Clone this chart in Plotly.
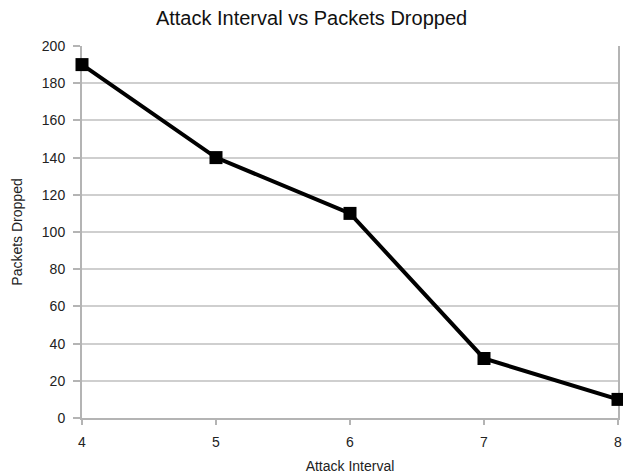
import plotly.graph_objects as go

attack_interval = [4, 5, 6, 7, 8]
packets_dropped = [190, 140, 110, 32, 10]
y_ticks = [0, 20, 40, 60, 80, 100, 120, 140, 160, 180, 200]

fig = go.Figure()
fig.add_trace(go.Scatter(
    x=attack_interval, y=packets_dropped, mode="lines+markers",
    line=dict(color="black", width=4),
    marker=dict(symbol="square", size=13, color="black"),
    cliponaxis=False, showlegend=False,
))

fig.update_layout(
    width=623, height=476,
    margin=dict(l=82, r=5, t=46, b=58, pad=0),
    paper_bgcolor="white", plot_bgcolor="white",
    font=dict(family="Liberation Sans, Arial, sans-serif", color="#222222", size=14),
    title=dict(text="Attack Interval vs Packets Dropped", x=0.5, xanchor="center",
               y=0.962, yanchor="middle", font=dict(size=20, color="#111111")),
    xaxis=dict(
        range=[4, 8], tickvals=attack_interval, showgrid=False, zeroline=False,
        showline=True, linecolor="#b4b4b4", linewidth=2, layer="below traces",
        ticks="outside", ticklen=5, tickcolor="#b4b4b4", tickwidth=2,
        ticklabelstandoff=5, automargin=False,
        title=dict(text="Attack Interval", standoff=12, font=dict(size=14)),
    ),
    yaxis=dict(
        range=[0, 200], tickvals=y_ticks, showgrid=True, gridcolor="#cfcfcf", gridwidth=1.5,
        zeroline=False, showline=True, mirror=True, linecolor="#b4b4b4", linewidth=2,
        layer="below traces",
        ticks="outside", ticklen=7, tickcolor="#b4b4b4", tickwidth=2,
        ticklabelstandoff=5, automargin=False,
        title=dict(text="Packets Dropped", standoff=16, font=dict(size=14)),
    ),
)

fig.write_html(
    "out.html",
    config={"displayModeBar": False},
    post_script="document.body.style.margin='0';document.body.style.overflow='hidden';",
)
